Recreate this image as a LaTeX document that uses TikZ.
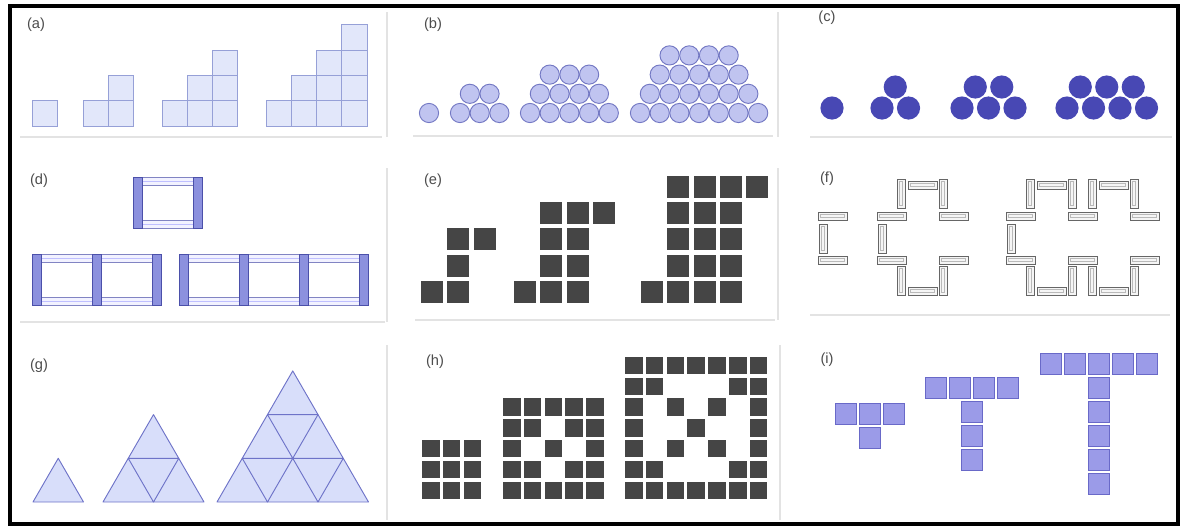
\documentclass[tikz,border=0pt]{standalone}
\usepackage{fontspec}
\setmainfont{Liberation Sans}

\definecolor{sqfill}{RGB}{226,231,250}
\definecolor{sqedge}{RGB}{150,160,215}
\definecolor{dotfill}{RGB}{192,196,240}
\definecolor{dotedge}{RGB}{115,120,195}
\definecolor{deepblue}{RGB}{72,72,180}
\definecolor{barfill}{RGB}{140,145,222}
\definecolor{baredge}{RGB}{75,80,170}
\definecolor{tfill}{RGB}{216,222,250}
\definecolor{tedge}{RGB}{110,115,200}
\definecolor{tfillb}{RGB}{155,155,232}
\definecolor{tedgeb}{RGB}{105,105,200}

% one matchstick, lying or standing
\newcommand\matchH[2]{\draw[stick] (#1,#2) rectangle +(29,8);
  \draw[stickin] ({#1+2.5},{#2+2.5}) rectangle +(24,3);}
\newcommand\matchV[2]{\draw[stick] (#1,#2) rectangle +(8,29);
  \draw[stickin] ({#1+2.5},{#2+2.5}) rectangle +(3,24);}

\begin{document}
\begin{tikzpicture}[x=0.03cm, y=-0.03cm,
    panellabel/.style={text=black!70, font=\fontsize{12.5}{14}\selectfont, inner sep=0pt},
    stick/.style={draw=black!60, fill=gray!8, line width=0.7pt},
    stickin/.style={draw=gray!55, line width=0.4pt},
    divider/.style={draw=gray!22, line width=1.2pt}]
    \useasboundingbox (0,0) rectangle (1181,527);

    % Faint panel edges
    \draw[divider] (20,137) -- (382,137) (413,136) -- (773,136) (810,137) -- (1172,137);
    \draw[divider] (20,322) -- (385,322) (415,320) -- (775,320) (810,315) -- (1170,315);
    \draw[divider] (387,12) -- (387,137) (778,12) -- (778,137);
    \draw[divider] (387,168) -- (387,322) (778,168) -- (778,320);
    \draw[divider] (387,345) -- (387,520) (780,345) -- (780,520);

    % Outer frame
    \draw[line width=3pt] (10,6) rectangle (1178,524);

    % Panel labels
    \node[panellabel] (la) at (36,25)  {(a)};
    \node[panellabel] (lb) at (433,25) {(b)};
    \node[panellabel] (lc) at (827,18) {(c)};
    \node[panellabel] (ld) at (39,181) {(d)};
    \node[panellabel] (le) at (433,181) {(e)};
    \node[panellabel] (lf) at (827,179) {(f)};
    \node[panellabel] (lg) at (39,366) {(g)};
    \node[panellabel] (lh) at (435,362) {(h)};
    \node[panellabel] (li) at (827,360) {(i)};

    % (a) staircases of squares
    \foreach \n/\x in {1/32, 2/83, 3/162, 4/266}
        \foreach \col in {1,...,\n}
            \foreach \row in {1,...,\col}
                \draw[fill=sqfill, draw=sqedge, line width=0.7pt]
                    ({\x+(\col-1)*25.3},{126-\row*25.3}) rectangle +(25.3,25.3);

    % (b) stacked rows of counters
    \foreach \n/\x in {1/429, 2/460, 3/530, 4/640} {
        \pgfmathtruncatemacro\rmax{\n-1}
        \foreach \row in {0,...,\rmax} {
            \pgfmathtruncatemacro\kmax{2*\n-2-\row}
            \foreach \i in {0,...,\kmax}
                \draw[fill=dotfill, draw=dotedge, line width=0.8pt]
                    ({\x+\row*9.85+\i*19.7},{113-\row*19.2}) circle (9.6);
        }
    }

    % (c) two rows of dark counters
    \foreach \n/\x in {1/832, 2/882, 3/962, 4/1067} {
        \pgfmathtruncatemacro\kmax{\n-1}
        \foreach \i in {0,...,\kmax}
            \fill[deepblue] ({\x+\i*26.5},108) circle (11.6);
    }
    \foreach \n/\x in {2/882, 3/962, 4/1067} {
        \pgfmathtruncatemacro\kmax{\n-2}
        \foreach \i in {0,...,\kmax}
            \fill[deepblue] ({\x+13.25+\i*26.5},87) circle (11.6);
    }

    % (d) frames with thick uprights
    \foreach \n/\x/\y in {1/133/177, 2/32/254, 3/179/254} {
        \foreach \i in {1,...,\n} {
            \draw[fill=blue!5, draw=baredge!70, line width=0.6pt]
                ({\x+(\i-1)*60+9},\y) rectangle +(51,8);
            \draw[fill=blue!5, draw=baredge!70, line width=0.6pt]
                ({\x+(\i-1)*60+9},{\y+43}) rectangle +(51,8);
            \draw[blue!25, line width=0.5pt] ({\x+(\i-1)*60+9},{\y+4}) -- +(51,0);
            \draw[blue!25, line width=0.5pt] ({\x+(\i-1)*60+9},{\y+47}) -- +(51,0);
        }
        \foreach \i in {0,...,\n}
            \draw[fill=barfill, draw=baredge, line width=0.8pt]
                ({\x+\i*60},\y) rectangle +(9,51);
    }

    % (e) dark tiles
    \foreach \n/\x in {1/421, 2/514, 3/641} {
        \pgfmathtruncatemacro\top{\n+1}
        \foreach \col in {0,...,\n}
            \fill[black!73] ({\x+\col*26.3},281) rectangle +(22,22);
        \foreach \col in {1,...,\n}
            \foreach \row in {1,...,\top}
                \fill[black!73] ({\x+\col*26.3},{281-\row*26.3}) rectangle +(22,22);
        \fill[black!73] ({\x+\top*26.3},{281-\top*26.3}) rectangle +(22,22);
    }

    % (f) matchstick crosses
    \foreach \x in {818, 877, 1006} {
        \matchH{\x}{212}
        \matchH{\x}{256}
        \matchV{\x+1}{224}
    }
    \foreach \a in {897, 1026, 1088} {
        \matchV{\a}{179}
        \matchV{\a}{266}
        \matchV{\a+42}{179}
        \matchV{\a+42}{266}
        \matchH{\a+11}{181}
        \matchH{\a+11}{287}
        \matchH{\a+42}{212}
        \matchH{\a+42}{256}
    }

    % (g) triangles cut into smaller triangles
    \foreach \k/\x in {1/33, 2/103, 3/217} {
        \fill[tfill] (\x,502) -- ++({\k*50.5},0) -- ++({-\k*25.25},{-\k*43.7}) -- cycle;
        \pgfmathtruncatemacro\rmax{\k-1}
        \foreach \row in {0,...,\rmax} {
            \pgfmathtruncatemacro\imax{\k-1-\row}
            \foreach \i in {0,...,\imax}
                \draw[tedge, line width=0.8pt, line join=round]
                    ({\x+\row*25.25+\i*50.5},{502-\row*43.7}) -- ++(50.5,0)
                    -- ++(-25.25,-43.7) -- cycle;
        }
    }

    % (h) squares with border and both diagonals
    \foreach \n/\x in {3/422, 5/503, 7/625} {
        \pgfmathtruncatemacro\last{\n-1}
        \foreach \i in {0,...,\last}
            \foreach \j in {0,...,\last} {
                \pgfmathtruncatemacro\on{(\i==0)||(\j==0)||(\i==\last)||(\j==\last)||(\i==\j)||(\i+\j==\last)}
                \ifnum\on=1
                    \fill[black!73] ({\x+\i*20.8},{499-17.5-(\last-\j)*20.8}) rectangle +(17.5,17.5);
                \fi
            }
    }

    % (i) T shapes
    \foreach \n/\x/\y/\stem in {3/835/403/1, 4/925/377/3, 5/1040/353/5} {
        \pgfmathtruncatemacro\kmax{\n-1}
        \foreach \i in {0,...,\kmax}
            \draw[fill=tfillb, draw=tedgeb, line width=0.8pt] ({\x+\i*24},\y) rectangle +(21.5,21.5);
        \foreach \j in {1,...,\stem}
            \draw[fill=tfillb, draw=tedgeb, line width=0.8pt] ({\x+(\n-1)*12},{\y+\j*24}) rectangle +(21.5,21.5);
    }
\end{tikzpicture}
\end{document}
